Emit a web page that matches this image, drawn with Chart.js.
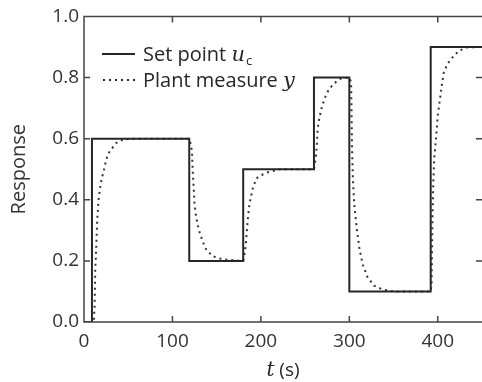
<!DOCTYPE html>
<html>
<head>
<meta charset="utf-8">
<script src="https://cdn.jsdelivr.net/npm/chart.js@4.4.1/dist/chart.umd.min.js"></script>
<style>
  html, body { margin: 0; padding: 0; background: #fff; }
  #wrap { width: 482px; height: 382px; }
</style>
</head>
<body>
<div id="wrap"><canvas id="chart" width="482" height="382"></canvas></div>
<script>
  // set point steps (t, value)
  const setT = [0, 9, 9, 119, 119, 180, 180, 260, 260, 300, 300, 392, 392, 450];
  const setY = [0, 0, 0.6, 0.6, 0.2, 0.2, 0.5, 0.5, 0.8, 0.8, 0.1, 0.1, 0.9, 0.9];

  // plant measure
  const plantT = [0, 11, 12, 12.7, 13.8, 14.9, 16.4, 18.3, 20, 22, 24.3, 27, 31, 36, 44, 55,
    119, 120, 122, 123, 124, 125, 127, 130, 134, 138, 145, 153, 164, 180,
    181, 183, 185, 187, 191, 195, 200, 208, 222, 260,
    262, 263.5, 264.2, 266, 268.7, 271.8, 276.3, 282.3, 290, 300,
    302, 302.5, 303, 304, 305.6, 308.3, 311.3, 315, 320.7, 328, 338, 350, 392,
    393, 393.5, 394, 395, 396, 398, 400, 402.5, 405, 407, 411, 417, 424, 434, 450];
  const plantY = [0, 0, 0.05, 0.17, 0.24, 0.33, 0.40, 0.44, 0.47, 0.49, 0.52, 0.55, 0.565, 0.585, 0.597, 0.6,
    0.6, 0.59, 0.56, 0.49, 0.44, 0.385, 0.34, 0.30, 0.265, 0.238, 0.216, 0.208, 0.203, 0.2,
    0.21, 0.255, 0.33, 0.385, 0.44, 0.47, 0.48, 0.49, 0.5, 0.5,
    0.536, 0.59, 0.634, 0.666, 0.70, 0.73, 0.758, 0.78, 0.796, 0.8,
    0.785, 0.688, 0.58, 0.47, 0.384, 0.308, 0.243, 0.189, 0.146, 0.119, 0.106, 0.1, 0.1,
    0.124, 0.243, 0.34, 0.46, 0.536, 0.60, 0.677, 0.73, 0.785, 0.818, 0.845, 0.867, 0.888, 0.899, 0.9];

  const xTicks = [0, 100, 200, 300, 400];
  const yTicks = [0, 0.2, 0.4, 0.6, 0.8, 1.0];

  const ink = '#262626';
  const sans = '"Open Sans", sans-serif';
  const serif = '"DejaVu Serif", serif';

  const toPts = (xs, ys) => xs.map((x, i) => ({ x, y: ys[i] }));

  // frame, inward ticks, legend and x title
  const decor = {
    id: 'decor',
    afterDraw(chart) {
      const { ctx, chartArea: a, scales } = chart;
      const len = 6;
      ctx.save();
      ctx.strokeStyle = '#444';
      ctx.lineWidth = 1.5;
      ctx.beginPath();
      ctx.moveTo(a.right, a.top); ctx.lineTo(a.left, a.top);
      ctx.lineTo(a.left, a.bottom); ctx.lineTo(a.right, a.bottom);
      xTicks.forEach(t => {
        const px = scales.x.getPixelForValue(t);
        ctx.moveTo(px, a.bottom); ctx.lineTo(px, a.bottom - len);
        ctx.moveTo(px, a.top); ctx.lineTo(px, a.top + len);
      });
      yTicks.forEach(v => {
        const py = scales.y.getPixelForValue(v);
        ctx.moveTo(a.left, py); ctx.lineTo(a.left + len, py);
        ctx.moveTo(a.right, py); ctx.lineTo(a.right - len, py);
      });
      ctx.stroke();

      // legend
      ctx.strokeStyle = ink;
      ctx.lineWidth = 2;
      ctx.beginPath(); ctx.moveTo(102, 54); ctx.lineTo(135, 54); ctx.stroke();
      ctx.setLineDash([2, 4]);
      ctx.beginPath(); ctx.moveTo(103, 80); ctx.lineTo(137, 80); ctx.stroke();
      ctx.setLineDash([]);

      ctx.fillStyle = ink;
      ctx.textBaseline = 'alphabetic';
      ctx.textAlign = 'left';
      ctx.font = '20px ' + sans;
      let w = ctx.measureText('Set point ').width;
      ctx.fillText('Set point ', 143, 61);
      ctx.font = 'italic 21px ' + serif;
      ctx.fillText('u', 143 + w, 61);
      const uw = ctx.measureText('u').width;
      ctx.font = '13px ' + sans;
      ctx.fillText('c', 143 + w + uw + 1, 65);

      ctx.font = '20px ' + sans;
      w = ctx.measureText('Plant measure ').width;
      ctx.fillText('Plant measure ', 143, 87);
      ctx.font = 'italic 21px ' + serif;
      ctx.fillText('y', 143 + w, 87);

      // x title: t (s)
      ctx.font = 'italic 20px ' + serif;
      const tw = ctx.measureText('t').width;
      ctx.font = '19px ' + sans;
      const sw = ctx.measureText(' (s)').width;
      const cx = (a.left + a.right) / 2;
      let x0 = cx - (tw + sw) / 2;
      ctx.font = 'italic 20px ' + serif;
      ctx.fillText('t', x0, 376);
      ctx.font = '19px ' + sans;
      ctx.fillText(' (s)', x0 + tw, 376);
      ctx.restore();
    }
  };

  new Chart(document.getElementById('chart'), {
    type: 'line',
    data: {
      datasets: [
        {
          label: 'Set point',
          data: toPts(setT, setY),
          borderColor: ink,
          borderWidth: 2,
          pointRadius: 0,
          tension: 0,
          fill: false
        },
        {
          label: 'Plant measure',
          data: toPts(plantT, plantY),
          borderColor: '#333',
          borderWidth: 2,
          borderDash: [2, 4],
          pointRadius: 0,
          tension: 0,
          fill: false
        }
      ]
    },
    options: {
      responsive: false,
      animation: false,
      devicePixelRatio: 1,
      layout: { padding: { top: 14, right: 0, left: 0, bottom: 0 } },
      plugins: { legend: { display: false }, tooltip: { enabled: false } },
      scales: {
        x: {
          type: 'linear',
          min: 0, max: 450,
          grid: { display: false, drawTicks: false },
          border: { display: false },
          afterFit: s => { s.height = 60; },
          afterBuildTicks: s => { s.ticks = xTicks.map(v => ({ value: v })); },
          ticks: {
            padding: 8,
            color: '#333',
            font: { family: sans, size: 19 },
            callback: v => String(v)
          }
        },
        y: {
          min: 0, max: 1.0,
          grid: { display: false, drawTicks: false },
          border: { display: false },
          afterFit: s => { s.width = 84; },
          afterBuildTicks: s => { s.ticks = yTicks.map(v => ({ value: v })); },
          title: {
            display: true,
            text: 'Response',
            color: '#333',
            font: { family: sans, size: 20 },
            padding: { top: 7, bottom: 0 }
          },
          ticks: {
            padding: 5,
            color: '#333',
            font: { family: sans, size: 19 },
            callback: v => v.toFixed(1)
          }
        }
      }
    },
    plugins: [decor]
  });
</script>
</body>
</html>
